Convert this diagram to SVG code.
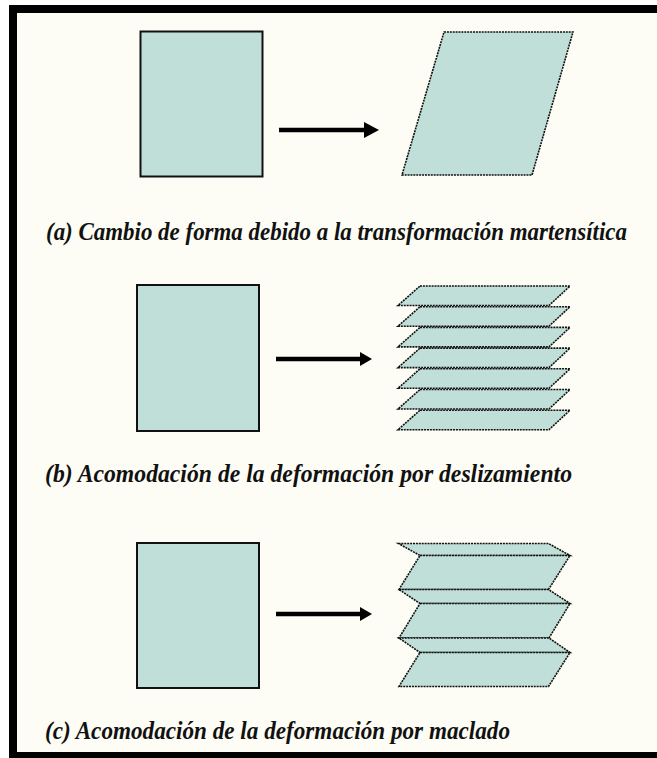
<svg xmlns="http://www.w3.org/2000/svg" width="657" height="758" viewBox="0 0 657 758">
<defs>
<style>
.box{fill:#c0dfd9;stroke:#111;stroke-width:2}
.sh{fill:#c0dfd9;stroke:#111;stroke-width:1.6;stroke-dasharray:2 0.9;stroke-linejoin:miter}
.arr{stroke:#000;stroke-width:4.5;fill:none}
.head{fill:#000}
.cap{font-family:"Liberation Serif","Times New Roman",serif;font-weight:bold;font-style:italic;font-size:22px;fill:#111}
</style>
</defs>
<rect x="0" y="0" width="657" height="758" fill="#ffffff"/>
<rect x="9" y="5" width="648" height="753" fill="#fdfdf5"/>
<g id="frame" fill="#000">
<rect x="9" y="5" width="648" height="8"/>
<rect x="9" y="5" width="8" height="753"/>
<rect x="9" y="752" width="648" height="6"/>
</g>

<g id="a-original"><rect class="box" x="140.5" y="31.5" width="122" height="145"/></g>
<g id="a-martensite"><polygon class="sh" points="444,32 573,32 532,175 402,175"/></g>
<g id="caption-a" transform="translate(46,240) scale(1,1.15)"><text class="cap" x="0" y="0" textLength="581" lengthAdjust="spacingAndGlyphs">(a) Cambio de forma debido a la transformación martensítica</text></g>

<g id="b-original"><rect class="box" x="137" y="285" width="122" height="146"/></g>
<g id="b-slip">
<polygon class="sh" points="420,286 570,286 549,305.5 398,305.5"/>
<polygon class="sh" points="420,306.7 570,306.7 549,326.2 398,326.2"/>
<polygon class="sh" points="420,327.4 570,327.4 549,346.9 398,346.9"/>
<polygon class="sh" points="420,348.1 570,348.1 549,367.6 398,367.6"/>
<polygon class="sh" points="420,368.8 570,368.8 549,388.3 398,388.3"/>
<polygon class="sh" points="420,389.5 570,389.5 549,409 398,409"/>
<polygon class="sh" points="420,410.2 570,410.2 549,429.7 398,429.7"/>
</g>
<g id="caption-b" transform="translate(45,482) scale(1,1.15)"><text class="cap" x="0" y="0" textLength="527" lengthAdjust="spacingAndGlyphs">(b) Acomodación de la deformación por deslizamiento</text></g>

<g id="c-original"><rect class="box" x="137" y="543" width="122" height="145"/></g>
<g id="c-twin">
<polygon class="sh" points="398.5,543.5 548.5,543.5 570,555.5 420,555.5"/>
<polygon class="sh" points="420,555.5 570,555.5 548.5,589.5 399,589.5"/>
<polygon class="sh" points="399,589.5 548.5,589.5 570,603.5 420,603.5"/>
<polygon class="sh" points="420,603.5 570,603.5 549,638 399,638"/>
<polygon class="sh" points="399,638 549,638 570,652.5 420,652.5"/>
<polygon class="sh" points="420,652.5 570,652.5 548.5,686.5 399,686.5"/>
</g>
<g id="caption-c" transform="translate(45,739) scale(1,1.15)"><text class="cap" x="0" y="0" textLength="465" lengthAdjust="spacingAndGlyphs">(c) Acomodación de la deformación por maclado</text></g>

<g id="connectors">
<line class="arr" x1="279" y1="130" x2="366" y2="130"/>
<polygon class="head" points="364,122 379,130 364,138"/>
<line class="arr" x1="276" y1="359" x2="362" y2="359"/>
<polygon class="head" points="360,352 372,359 360,366"/>
<line class="arr" x1="276" y1="614" x2="362" y2="614"/>
<polygon class="head" points="360,607 372,614 360,621"/>
</g>
</svg>
